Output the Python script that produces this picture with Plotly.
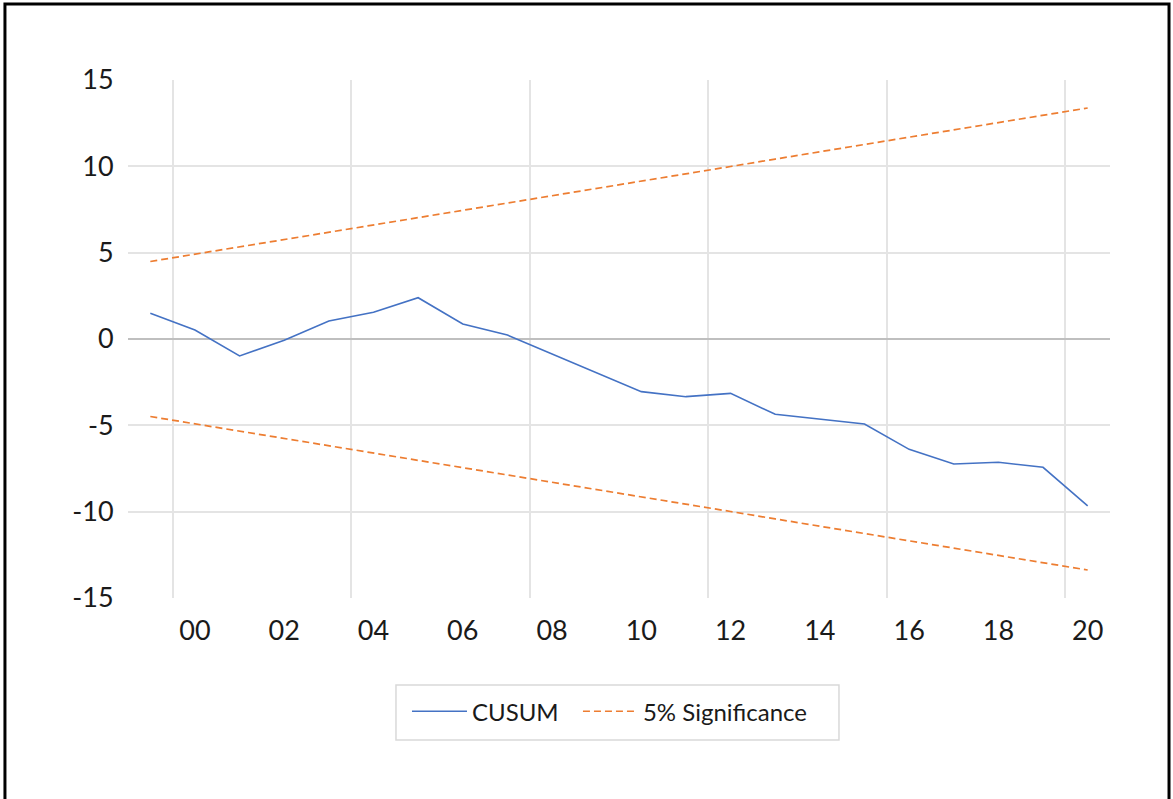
import plotly.graph_objects as go

years = list(range(1999, 2021))
tick_years = [2000, 2002, 2004, 2006, 2008, 2010, 2012, 2014, 2016, 2018, 2020]
tick_labels = ["00", "02", "04", "06", "08", "10", "12", "14", "16", "18", "20"]
y_ticks = [-15, -10, -5, 0, 5, 10, 15]
y_labels = ["-15", "-10", "-5", "0", "5", "10", "15"]

cusum = [1.49, 0.52, -0.98, -0.07, 1.04, 1.55, 2.39, 0.87, 0.23, -0.85, -1.95,
         -3.05, -3.34, -3.15, -4.36, -4.65, -4.92, -6.39, -7.24, -7.14, -7.43, -9.67]
upper = [4.49, 4.91, 5.34, 5.76, 6.18, 6.61, 7.03, 7.45, 7.88, 8.30, 8.72,
         9.15, 9.57, 9.99, 10.42, 10.84, 11.26, 11.69, 12.11, 12.53, 12.96, 13.38]
lower = [-4.49, -4.91, -5.34, -5.76, -6.18, -6.61, -7.03, -7.45, -7.88, -8.30, -8.72,
         -9.15, -9.57, -9.99, -10.42, -10.84, -11.26, -11.69, -12.11, -12.53, -12.96, -13.38]

vgrid = [1999.5, 2003.5, 2007.5, 2011.5, 2015.5, 2019.5]
hgrid = [-10, -5, 5, 10]

FONT = "Lato, 'Open Sans', sans-serif"
BLUE = "#4472c4"
ORANGE = "#ed7d31"

fig = go.Figure()
fig.add_trace(go.Scatter(x=years, y=cusum, mode="lines", name="CUSUM",
                         legend="legend",
                         line=dict(color=BLUE, width=1.6)))
fig.add_trace(go.Scatter(x=years, y=upper, mode="lines", name="5% Significance",
                         legend="legend2",
                         line=dict(color=ORANGE, width=1.7, dash="7px,4px")))
fig.add_trace(go.Scatter(x=years, y=lower, mode="lines", name="5% Significance",
                         showlegend=False, legend="legend2",
                         line=dict(color=ORANGE, width=1.7, dash="7px,4px")))

leg_common = dict(orientation="h", xanchor="left", y=-0.176, yanchor="top",
                  borderwidth=0, bgcolor="rgba(0,0,0,0)",
                  font=dict(size=24, family=FONT, color="#1a1a1a"),
                  itemwidth=55)

fig.update_layout(
    width=1173, height=799,
    margin=dict(l=128, r=63, t=80, b=201),
    paper_bgcolor="white", plot_bgcolor="white",
    font=dict(family=FONT, size=27, color="#1a1a1a"),
    showlegend=True,
    legend=dict(x=0.2841, **leg_common),
    legend2=dict(x=0.4582, **leg_common),
    xaxis=dict(range=[1998.5, 2020.5], tickmode="array", tickvals=tick_years,
               ticktext=tick_labels, showgrid=False, zeroline=False, showline=False,
               ticks="outside", ticklen=9, tickcolor="rgba(0,0,0,0)",
               minor=dict(tickmode="array", tickvals=vgrid, showgrid=True,
                          gridcolor="#e4e4e4", gridwidth=1.5, ticks="")),
    yaxis=dict(range=[-15, 15], tickmode="array", tickvals=y_ticks, ticktext=y_labels,
               showgrid=False, zeroline=True, zerolinecolor="#bfbfbf", zerolinewidth=2,
               showline=False, ticks="outside", ticklen=8, tickcolor="rgba(0,0,0,0)",
               minor=dict(tickmode="array", tickvals=hgrid, showgrid=True,
                          gridcolor="#e4e4e4", gridwidth=1.5, ticks="")),
    shapes=[
        dict(type="rect", xref="paper", yref="paper",
             x0=-0.1253, x1=1.0601, y0=-0.395, y1=1.1467,
             line=dict(color="black", width=3), fillcolor="rgba(0,0,0,0)",
             layer="below"),
        dict(type="rect", xref="paper", yref="paper",
             x0=0.2729, x1=0.7240, y0=-0.2741, y1=-0.168,
             line=dict(color="#d9d9d9", width=1.5), fillcolor="rgba(0,0,0,0)",
             layer="below"),
    ],
)

fig.write_html("out.html", config={"displayModeBar": False},
               post_script="document.body.style.margin='0';")
